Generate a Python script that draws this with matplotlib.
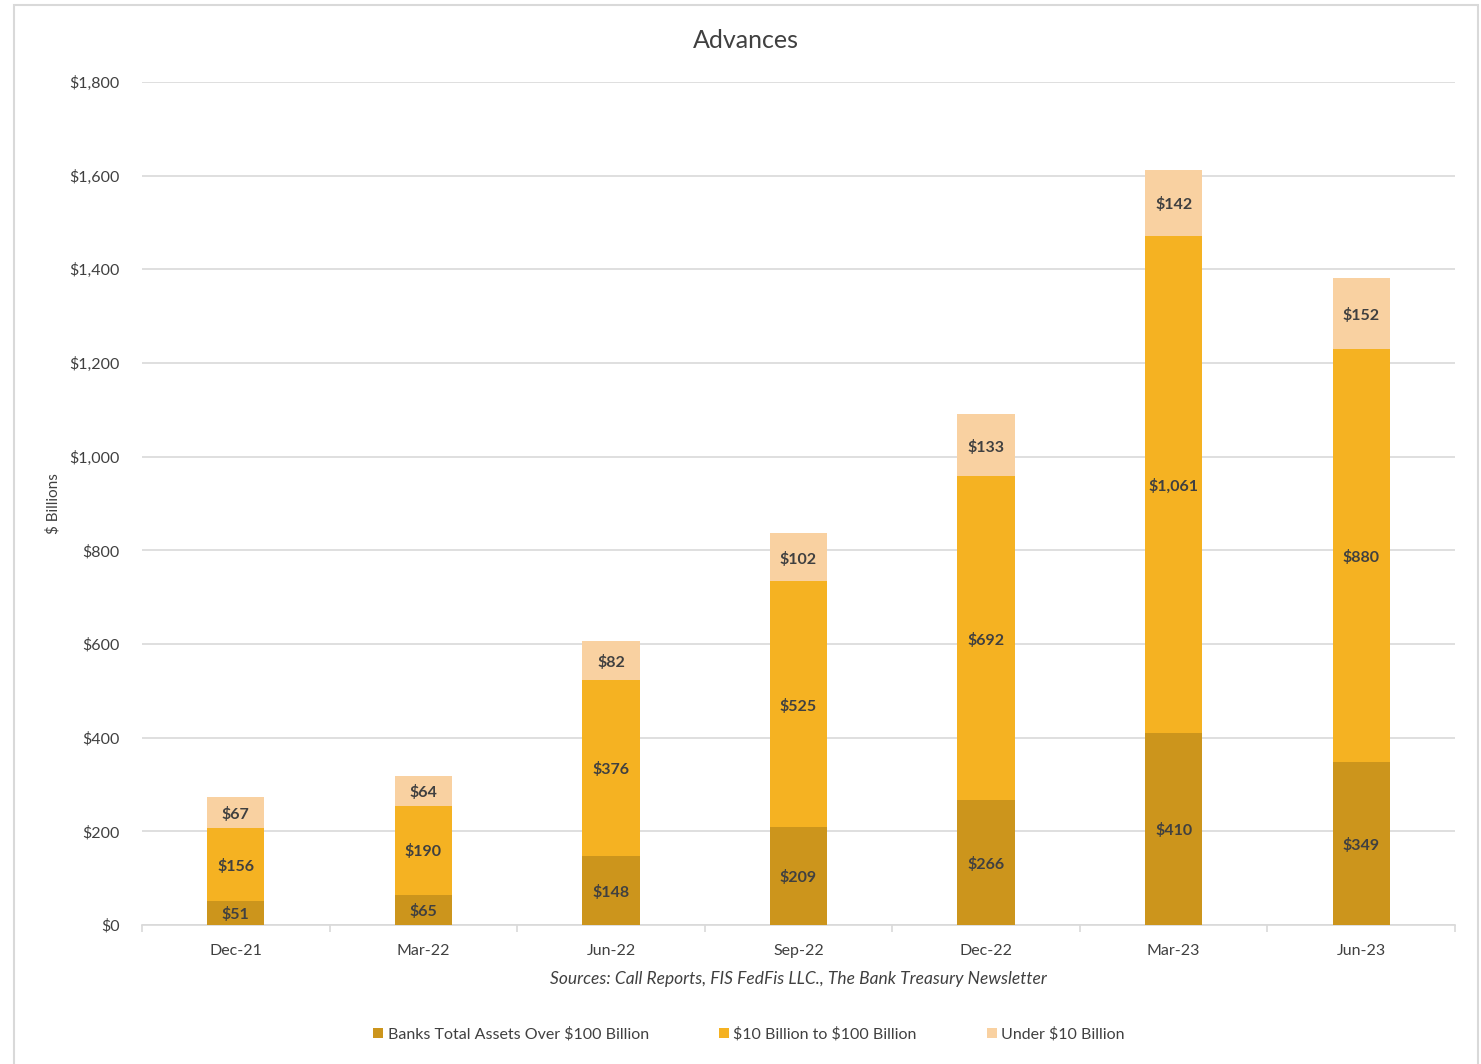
import numpy as np
import matplotlib
matplotlib.use("Agg")
import matplotlib.pyplot as plt
from matplotlib.patches import Rectangle

plt.rcParams['font.family'] = ['Lato', 'DejaVu Sans']
plt.rcParams['text.parse_math'] = False

# quarterly advances by bank size, $ billions
quarters = ['Dec-21', 'Mar-22', 'Jun-22', 'Sep-22', 'Dec-22', 'Mar-23', 'Jun-23']
over_100b = [51, 65, 148, 209, 266, 410, 349]
b10_to_100 = [156, 190, 376, 525, 692, 1061, 880]
under_10b = [67, 64, 82, 102, 133, 142, 152]

series_names = ['Banks Total Assets Over $100 Billion', '$10 Billion to $100 Billion', 'Under $10 Billion']
colors = ['#CC951C', '#F5B222', '#F9D1A1']
text_col = '#404040'

fig = plt.figure(figsize=(14.81, 10.64), dpi=100)
fig.patches.append(Rectangle((14 / 1481, -0.01), (1478 - 14) / 1481, 1 - 5 / 1064 + 0.01,
                             transform=fig.transFigure, fill=False, edgecolor='#D9D9D9', lw=1.5))
ax = fig.add_axes([142 / 1481, 139 / 1064, (1455 - 142) / 1481, (925 - 82) / 1064])

x = np.arange(len(quarters))
w = 0.305
bottom = np.zeros(len(quarters))
for vals, name, c in zip([over_100b, b10_to_100, under_10b], series_names, colors):
    vals = np.array(vals, dtype=float)
    ax.bar(x, vals, w, bottom=bottom, color=c, label=name, zorder=3)
    for xi, b, v in zip(x, bottom, vals):
        ax.text(xi, b + v / 2 - 4, '${:,.0f}'.format(v), ha='center', va='center',
                fontsize=11.5, fontweight='bold', color=text_col, zorder=4)
    bottom += vals

ax.set_xlim(-0.5, len(quarters) - 0.5)
ax.set_ylim(0, 1800)
ax.set_yticks(np.arange(0, 1801, 200))
ax.yaxis.set_major_formatter(matplotlib.ticker.FuncFormatter(lambda v, p: '${:,.0f}'.format(v)))
ax.grid(axis='y', color='#D9D9D9', lw=1.2, zorder=0)
ax.set_xticks(x)
ax.set_xticklabels(quarters)
ax.set_xticks(np.arange(-0.5, len(quarters), 1), minor=True)
ax.tick_params(axis='x', which='major', length=0, pad=14, labelsize=11.5, labelcolor=text_col)
ax.tick_params(axis='x', which='minor', length=5, color='#D9D9D9', width=1.2)
ax.tick_params(axis='y', length=0, pad=16, labelsize=11.5, labelcolor=text_col)
for s in ['top', 'right', 'left']:
    ax.spines[s].set_visible(False)
ax.spines['bottom'].set_color('#D9D9D9')
ax.spines['bottom'].set_linewidth(1.2)

ax.set_ylabel('$ Billions', fontsize=11, color=text_col)
ax.yaxis.set_label_coords(-0.062, 0.5)
fig.text(746 / 1481, 1 - 40 / 1064, 'Advances', ha='center', va='center', fontsize=18, color=text_col)
fig.text(798 / 1481, 1 - 979 / 1064, 'Sources: Call Reports, FIS FedFis LLC., The Bank Treasury Newsletter',
         ha='center', va='center', fontsize=12.5, style='italic', color=text_col)

fig.legend(loc='center', bbox_to_anchor=(749 / 1481, 1 - 1034 / 1064), ncol=3, frameon=False,
           fontsize=11.5, handlelength=0.6, handleheight=0.6, handletextpad=0.3, columnspacing=4.4,
           labelcolor=text_col)

fig.savefig('out.png', dpi=100)
